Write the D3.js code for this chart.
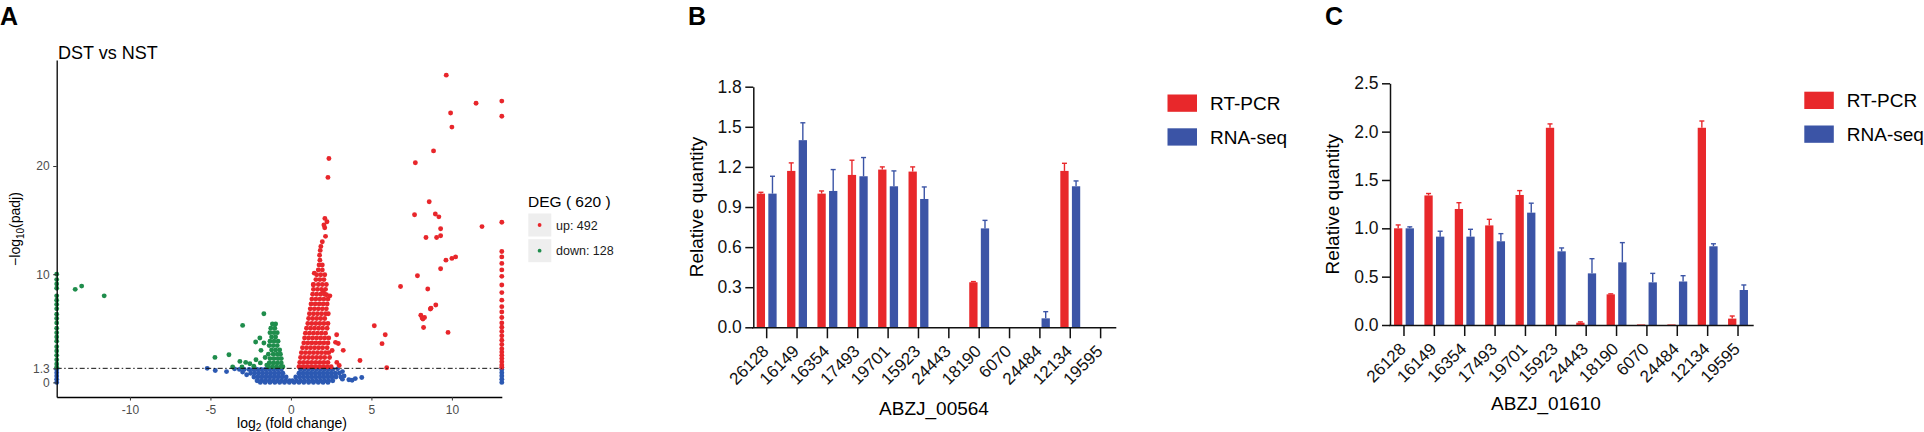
<!DOCTYPE html>
<html>
<head>
<meta charset="utf-8">
<script src="https://cdn.jsdelivr.net/npm/d3@7"></script>
<style>
  body { margin: 0; background: #fff; }
  svg { font-family: "Liberation Sans", Arial, Helvetica, sans-serif; }
</style>
</head>
<body>
<svg id="chart" width="1924" height="432"></svg>
<script>
// ---------- Panel A : volcano (log2 fold change, -log10 padj) ----------
// up-regulated: dense "flame" rows as [y, [x...]]
const upFlameRows = [
  [1.45, [0.5, 0.75, 1.0, 1.25, 1.5, 1.75, 2.0, 2.25, 2.5]],
  [1.85, [0.55, 0.8, 1.05, 1.3, 1.55, 1.8, 2.05, 2.3]],
  [2.3, [0.6, 0.85, 1.1, 1.35, 1.6, 1.85, 2.1, 2.4]],
  [2.75, [0.65, 0.9, 1.15, 1.4, 1.65, 1.9, 2.15, 2.35]],
  [3.2, [0.72, 0.97, 1.22, 1.47, 1.72, 1.97, 2.25]],
  [3.65, [0.8, 1.05, 1.3, 1.55, 1.8, 2.05, 2.3]],
  [4.1, [0.85, 1.1, 1.35, 1.6, 1.85, 2.1, 2.35]],
  [4.55, [0.9, 1.15, 1.4, 1.65, 1.9, 2.15]],
  [5.0, [0.97, 1.22, 1.47, 1.72, 1.97, 2.25]],
  [5.45, [1.05, 1.3, 1.55, 1.8, 2.05, 2.3]],
  [5.9, [1.1, 1.35, 1.6, 1.85, 2.1]],
  [6.35, [1.15, 1.4, 1.65, 1.9, 2.15, 2.32]],
  [6.8, [1.2, 1.45, 1.7, 1.95, 2.2]],
  [7.25, [1.25, 1.5, 1.75, 2.0, 2.25]],
  [7.7, [1.3, 1.55, 1.8, 2.05, 2.3]],
  [8.15, [1.35, 1.6, 1.85, 2.1]],
  [8.6, [1.4, 1.65, 1.9, 2.15]],
  [9.05, [1.4, 1.7, 1.95, 2.2]],
  [9.5, [1.55, 1.8, 2.05]],
  [9.95, [1.6, 1.85, 2.1]],
  [10.4, [1.7, 1.95]],
  [10.85, [1.75, 1.95]],
  [11.3, [1.8]],
  [11.75, [1.78]]
];
const upScatter = [
  [2.1, 14.3], [2.05, 14.55], [2.24, 14.85], [2.11, 15.16], [2.15, 13.5], [1.95, 13.0],
  [1.86, 12.57], [1.82, 12.2], [2.3, 18.95], [2.36, 20.7], [1.45, 10.1], [2.42, 8.0],
  [2.21, 8.1], [2.0, 8.41], [1.39, 9.03], [2.84, 4.4], [2.94, 3.6], [2.77, 3.7],
  [3.25, 2.96], [2.56, 2.95], [2.85, 1.85], [3.0, 1.56], [4.29, 2.03], [5.18, 5.24],
  [5.86, 4.41], [5.66, 3.58], [5.95, 1.36],
  [9.65, 28.4], [11.5, 25.8], [13.1, 26.0], [13.1, 24.6], [9.92, 24.9], [10.0, 23.6],
  [8.86, 21.4], [7.73, 20.3], [8.59, 16.7], [7.68, 15.5], [8.97, 15.56], [9.19, 15.3],
  [9.3, 14.2], [8.39, 13.4], [9.05, 13.4], [9.3, 13.56], [11.87, 14.4], [13.1, 14.8],
  [9.63, 11.3], [10.0, 11.46], [10.23, 11.6], [9.3, 10.5], [7.86, 9.86], [6.81, 8.87],
  [8.5, 8.63], [9.0, 7.15], [8.66, 6.78], [8.07, 6.2], [8.2, 5.86], [8.3, 6.0],
  [8.15, 5.95], [8.24, 5.08], [9.76, 4.62], [8.7, 6.85]
];
const upEdgeY = [12.1, 11.6, 11.0, 10.4, 9.8, 9.0, 8.3, 7.6, 7.0, 6.5, 6.0, 5.5, 5.1, 4.7,
  4.3, 3.9, 3.5, 3.1, 2.8, 2.5, 2.2, 1.9, 1.6, 1.4];

// down-regulated
const downClusterRows = [
  [5.4, [-1.15, -0.95]],
  [5.0, [-1.25, -1.0]],
  [4.6, [-1.3, -1.05, -0.85]],
  [4.2, [-1.2, -0.95]],
  [3.8, [-1.3, -1.05, -0.8]],
  [3.4, [-1.35, -1.1, -0.85]],
  [3.0, [-1.2, -0.95, -0.7]],
  [2.6, [-1.4, -1.1, -0.85, -0.65]],
  [2.2, [-1.3, -1.05, -0.8, -0.6]],
  [1.8, [-1.35, -1.1, -0.85, -0.6]],
  [1.45, [-1.4, -1.15, -0.9, -0.65, -0.5]]
];
const downScatter = [
  [-13.4, 8.6], [-13.0, 8.9], [-11.6, 8.0],
  [-1.68, 6.35], [-3.0, 5.27], [-3.85, 2.56], [-4.72, 2.31], [-1.93, 4.1], [-2.19, 3.73],
  [-1.68, 3.64], [-1.86, 2.96], [-3.17, 1.94], [-2.81, 1.85], [-2.55, 1.73], [-2.17, 2.1],
  [-3.62, 1.42], [-3.04, 1.42], [-2.3, 1.5], [-1.9, 1.8], [-1.6, 2.3], [-1.5, 1.6]
];
const downEdgeY = [10.0, 9.5, 9.1, 8.7, 8.0, 7.6, 7.2, 6.8, 6.3, 5.9, 5.5, 5.0, 4.6, 4.2,
  3.8, 3.3, 2.9, 2.5, 2.1, 1.7, 1.4];

// not significant
const nsRows = [
  [1.2, [-3.2, -2.9, -2.6, -2.35, -2.1, -1.85, -1.6, -1.35, -1.1, -0.85, -0.6, 0.6, 0.85, 1.1, 1.35, 1.6, 1.85, 2.1, 2.35, 2.6]],
  [0.85, [-2.5, -2.25, -2.0, -1.75, -1.5, -1.25, -1.0, -0.75, -0.5, 0.5, 0.75, 1.0, 1.25, 1.5, 1.75, 2.0, 2.25, 2.5, 2.75, 3.0]],
  [0.5, [-2.3, -2.05, -1.8, -1.55, -1.3, -1.05, -0.8, -0.55, -0.3, 0.3, 0.55, 0.8, 1.05, 1.3, 1.55, 1.8, 2.05, 2.3, 2.55, 2.8, 3.1]],
  [0.15, [-2.1, -1.85, -1.6, -1.35, -1.1, -0.85, -0.6, -0.35, -0.1, 0.1, 0.35, 0.6, 0.85, 1.1, 1.35, 1.6, 1.85, 2.1, 2.35, 2.6]],
  [0.0, [-1.9, -1.6, -1.3, -1.0, -0.7, -0.4, -0.1, 0.2, 0.5, 0.8, 1.1, 1.4, 1.7, 2.0, 2.3]]
];
const nsScatter = [
  [-5.2, 1.3], [-4.7, 1.1], [-4.0, 1.0], [-3.5, 1.25], [-3.0, 0.95], [-2.75, 0.7],
  [3.3, 0.6], [3.2, 0.3], [3.6, 0.25], [3.8, 0.2], [4.0, 0.35], [4.4, 0.45], [2.9, 1.25], [3.2, 1.0]
];
const nsEdgeY = [0, 0.3, 0.6, 0.9, 1.2];

const xLimA = [-14.55, 13.1];
const xTicksA = [-10, -5, 0, 5, 10];
const yTicksA = [0, 1.3, 10, 20];
const padjCut = 1.3;
const degCounts = { up: 492, down: 128 };

// ---------- Panels B and C : RT-PCR vs RNA-seq ----------
const genes = ["26128", "16149", "16354", "17493", "19701", "15923", "24443", "18190", "6070", "24484", "12134", "19595"];
const rtB = [1.00, 1.17, 1.00, 1.14, 1.18, 1.165, 0, 0.337, 0, 0, 1.17, 0];
const rtBErr = [0.01, 0.06, 0.02, 0.11, 0.02, 0.035, 0, 0.005, 0, 0, 0.057, 0];
const rnaB = [1.00, 1.40, 1.02, 1.13, 1.055, 0.96, 0, 0.74, 0, 0.067, 1.055, 0];
const rnaBErr = [0.13, 0.13, 0.16, 0.14, 0.115, 0.09, 0, 0.06, 0, 0.05, 0.04, 0];
const yTicksB = [0, 0.3, 0.6, 0.9, 1.2, 1.5, 1.8];

const rtC = [1.00, 1.34, 1.20, 1.03, 1.345, 2.04, 0.024, 0.317, 0.006, 0.006, 2.04, 0.066];
const rtCErr = [0.035, 0.02, 0.065, 0.063, 0.045, 0.04, 0.008, 0.005, 0, 0, 0.07, 0.027];
const rnaC = [1.00, 0.914, 0.914, 0.866, 1.162, 0.762, 0.534, 0.648, 0.441, 0.45, 0.814, 0.362];
const rnaCErr = [0.015, 0.056, 0.076, 0.079, 0.098, 0.035, 0.152, 0.204, 0.093, 0.06, 0.026, 0.052];
const yTicksC = [0, 0.5, 1.0, 1.5, 2.0, 2.5];

const seriesNames = ["RT-PCR", "RNA-seq"];

const RED = "#e8282b", BLUE = "#3b54a6";
const PT_RED = "#e8262b", PT_GREEN = "#1f8d4c", PT_BLUE = "#2c59b2";

const svg = d3.select("#chart");

// helpers
function rowsToPts(rows) {
  let out = [];
  rows.forEach(function (r) { r[1].forEach(function (x) { out.push([x, r[0]]); }); });
  return out;
}
function edgePts(x, ys) {
  return ys.map(function (y) { return [x, y]; });
}

//Panel A
(function () {
  const x = d3.scaleLinear().domain(xLimA).range([56.7, 501.8]);
  const y = d3.scaleLinear().domain([-1.35, 29.8]).range([397, 60]);
  const g = svg.append("g");

  const ns = rowsToPts(nsRows).concat(nsScatter, edgePts(xLimA[0], nsEdgeY), edgePts(xLimA[1], nsEdgeY));
  const down = rowsToPts(downClusterRows).concat(downScatter, edgePts(xLimA[0], downEdgeY));
  const up = rowsToPts(upFlameRows).concat(upScatter, edgePts(xLimA[1], upEdgeY));

  [[ns, PT_BLUE], [down, PT_GREEN], [up, PT_RED]].forEach(function (s) {
    g.append("g").selectAll("circle")
      .data(s[0])
      .enter().append("circle")
      .attr("cx", function (d) { return x(d[0]); })
      .attr("cy", function (d) { return y(d[1]); })
      .attr("r", 2.45)
      .attr("fill", s[1]);
  });

  // threshold line
  g.append("line")
    .attr("x1", x(xLimA[0])).attr("x2", x(xLimA[1]))
    .attr("y1", y(padjCut)).attr("y2", y(padjCut))
    .attr("stroke", "#111").attr("stroke-width", 1)
    .attr("stroke-dasharray", "5,2.5,1.5,2.5");

  const ax = g.append("g").attr("transform", "translate(0,397)")
    .call(d3.axisBottom(x).tickValues(xTicksA).tickSize(3.5).tickSizeOuter(0).tickPadding(5).tickFormat(d3.format("d")));
  const ay = g.append("g").attr("transform", "translate(56.7,0)")
    .call(d3.axisLeft(y).tickValues(yTicksA).tickSize(3.5).tickSizeOuter(0).tickPadding(3.5).tickFormat(function (d) { return d === 1.3 ? "1.3" : d; }));
  [ax, ay].forEach(function (a) {
    a.select(".domain").attr("stroke", "#000").attr("stroke-width", 1.3);
    a.selectAll(".tick line").attr("stroke", "#333");
    a.selectAll(".tick text").attr("fill", "#4d4d4d").style("font-size", "12px")
      .style("font-family", "Liberation Sans, Arial, sans-serif");
  });
  ax.selectAll(".tick text").text(function (d) { return d < 0 ? "-" + Math.abs(d) : d; });

  g.append("text").attr("x", 0).attr("y", 25)
    .style("font-size", "25px").style("font-weight", "bold").text("A");
  g.append("text").attr("x", 58).attr("y", 59)
    .style("font-size", "18px").text("DST vs NST");

  // axis titles
  const xl = g.append("text").attr("x", 292).attr("y", 427.5)
    .attr("text-anchor", "middle").style("font-size", "14px");
  xl.append("tspan").text("log");
  xl.append("tspan").attr("dy", 3.5).style("font-size", "10px").text("2");
  xl.append("tspan").attr("dy", -3.5).text(" (fold change)");

  const yl = g.append("text").attr("transform", "translate(20,229) rotate(-90)")
    .attr("text-anchor", "middle").style("font-size", "14px");
  yl.append("tspan").text("\u2212log");
  yl.append("tspan").attr("dy", 4).style("font-size", "10px").text("10");
  yl.append("tspan").attr("dy", -4).text("(padj)");

  // legend
  const lg = g.append("g");
  lg.append("text").attr("x", 528).attr("y", 207).style("font-size", "15.5px")
    .text("DEG ( " + (degCounts.up + degCounts.down) + " )");
  const keys = [["up: " + degCounts.up, PT_RED], ["down: " + degCounts.down, PT_GREEN]];
  keys.forEach(function (k, i) {
    const cy = 225 + i * 25.7;
    lg.append("rect").attr("x", 528.3).attr("y", cy - 11.5).attr("width", 23).attr("height", 23)
      .attr("fill", "#eeeeee");
    lg.append("circle").attr("cx", 539.6).attr("cy", cy).attr("r", 1.9).attr("fill", k[1]);
    lg.append("text").attr("x", 556).attr("y", cy + 4.5).style("font-size", "12.5px")
      .attr("fill", "#1a1a1a").text(k[0]);
  });
})();

//Panels B and C
function drawBars(o) {
  const x = d3.scaleBand().domain(genes).range(o.xr);
  const y = d3.scaleLinear().domain([0, o.yTicks[o.yTicks.length - 1]]).range([o.y0, o.ytop]);
  const g = svg.append("g");
  const bw = 8.3;

  const series = [
    { vals: o.rt, err: o.rtErr, color: RED, dx: -5.8 },
    { vals: o.rna, err: o.rnaErr, color: BLUE, dx: 5.8 }
  ];

  series.forEach(function (s) {
    const cx = function (i) { return x(genes[i]) + x.bandwidth() / 2 + s.dx; };
    g.append("g").selectAll("rect")
      .data(s.vals)
      .enter().append("rect")
      .attr("x", function (d, i) { return cx(i) - bw / 2; })
      .attr("y", function (d) { return y(d); })
      .attr("width", bw)
      .attr("height", function (d) { return o.y0 - y(d); })
      .attr("fill", s.color);
    const eb = g.append("g").attr("stroke", s.color).attr("stroke-width", 1.4);
    s.vals.forEach(function (d, i) {
      if (s.err[i] <= 0) return;
      eb.append("line").attr("x1", cx(i)).attr("x2", cx(i))
        .attr("y1", y(d)).attr("y2", y(d + s.err[i]));
      eb.append("line").attr("x1", cx(i) - 2.5).attr("x2", cx(i) + 2.5)
        .attr("y1", y(d + s.err[i])).attr("y2", y(d + s.err[i]));
    });
  });

  const ay = g.append("g").attr("transform", "translate(" + o.yAxisX + ",0)")
    .call(d3.axisLeft(y).tickValues(o.yTicks).tickSize(8).tickSizeOuter(0).tickPadding(3.5).tickFormat(d3.format(".1f")));
  const ax = g.append("g").attr("transform", "translate(0," + o.y0 + ")")
    .call(d3.axisBottom(x).tickSize(11).tickSizeOuter(0));
  [ax, ay].forEach(function (a) {
    a.selectAll(".domain, .tick line").attr("stroke", "#111").attr("stroke-width", 1.5);
    a.selectAll(".tick text").attr("fill", "#111").style("font-size", "17.5px")
      .style("font-family", "Liberation Sans, Arial, sans-serif");
  });
  ax.selectAll(".tick text")
    .attr("y", 0).attr("dy", 0)
    .attr("text-anchor", "end")
    .attr("transform", "translate(3,25) rotate(-45)")
    .style("font-size", "17px");

  g.append("text").attr("x", o.letterX).attr("y", 25)
    .style("font-size", "25px").style("font-weight", "bold").text(o.letter);
  g.append("text").attr("transform", "translate(" + o.yLabelX + "," + ((o.y0 + o.ytop) / 2) + ") rotate(-90)")
    .attr("text-anchor", "middle").style("font-size", "19px").text("Relative quantity");
  g.append("text").attr("x", o.titleX).attr("y", o.titleY)
    .attr("text-anchor", "middle").style("font-size", "19px").text(o.title);

  [RED, BLUE].forEach(function (c, i) {
    g.append("rect").attr("x", o.legX).attr("y", o.legY + i * 33.8)
      .attr("width", 29.5).attr("height", 17.3).attr("fill", c);
    g.append("text").attr("x", o.legX + 42.5).attr("y", o.legY + i * 33.8 + 15.5)
      .style("font-size", "19px").text(seriesNames[i]);
  });
}

drawBars({
  letter: "B", letterX: 688,
  rt: rtB, rtErr: rtBErr, rna: rnaB, rnaErr: rnaBErr, yTicks: yTicksB,
  xr: [751.5, 1115.8], y0: 327.3, ytop: 86.7, yAxisX: 753.3,
  yLabelX: 702.5, title: "ABZJ_00564", titleX: 934, titleY: 415,
  legX: 1167.5, legY: 94.5
});

drawBars({
  letter: "C", letterX: 1325,
  rt: rtC, rtErr: rtCErr, rna: rnaC, rnaErr: rnaCErr, yTicks: yTicksC,
  xr: [1388.8, 1753.2], y0: 325, ytop: 83.3, yAxisX: 1390,
  yLabelX: 1339.3, title: "ABZJ_01610", titleX: 1546, titleY: 410,
  legX: 1804.3, legY: 91.7
});
</script>
</body>
</html>
